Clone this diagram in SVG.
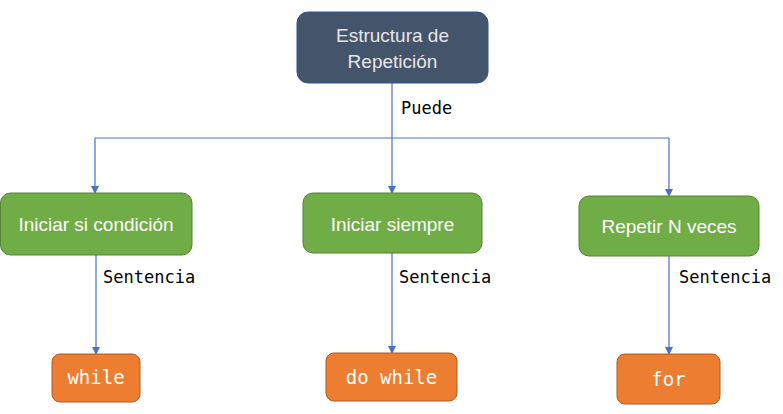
<svg xmlns="http://www.w3.org/2000/svg" width="783" height="414" viewBox="0 0 783 414">
<style>
.lbl{font-family:"Liberation Sans",Arial,sans-serif;font-size:19px;fill:#ffffff;text-anchor:middle}
.top{fill:#e7e6e6}
.mono{font-family:"DejaVu Sans Mono","Liberation Mono",monospace;font-size:17px;fill:#000000}
.code{font-family:"DejaVu Sans Mono","Liberation Mono",monospace;font-size:19px;fill:#ffffff;text-anchor:middle}
.green{fill:#70ad47;stroke:#548235;stroke-width:1}
.orange{fill:#ed7d31;stroke:#ae5a21;stroke-width:1}
.dark{fill:#44546a;stroke:#2f5597;stroke-width:1}
.conn{fill:none;stroke:#4472c4;stroke-width:1.2}
</style>
<defs>
<marker id="arr" markerWidth="8" markerHeight="8" refX="7" refY="4" orient="auto" markerUnits="userSpaceOnUse">
<path d="M0,0 L8,4 L0,8 Z" fill="#4472c4"/>
</marker>
</defs>
<rect width="783" height="414" fill="#ffffff"/>
<g id="connectors">
<path class="conn" d="M392,83 V138"/>
<path class="conn" d="M95,138 H669"/>
<path class="conn" d="M95,138 V193" marker-end="url(#arr)"/>
<path class="conn" d="M392,138 V193" marker-end="url(#arr)"/>
<path class="conn" d="M669,138 V196" marker-end="url(#arr)"/>
<path class="conn" d="M96,255 V354" marker-end="url(#arr)"/>
<path class="conn" d="M392,253 V353" marker-end="url(#arr)"/>
<path class="conn" d="M669,256 V354" marker-end="url(#arr)"/>
<text class="mono" x="401" y="114">Puede</text>
<text class="mono" x="103" y="283">Sentencia</text>
<text class="mono" x="399" y="283">Sentencia</text>
<text class="mono" x="679" y="283">Sentencia</text>
</g>
<g id="root">
<rect class="dark" x="297" y="12" width="191" height="71" rx="11"/>
<text class="lbl top" x="392.5" y="42">Estructura de</text>
<text class="lbl top" x="392.5" y="68">Repetición</text>
</g>
<g id="n1">
<rect class="green" x="0.5" y="193" width="191.5" height="62" rx="10"/>
<text class="lbl" x="96" y="231">Iniciar si condición</text>
</g>
<g id="n2">
<rect class="green" x="303" y="193" width="179" height="60" rx="10"/>
<text class="lbl" x="392.5" y="231">Iniciar siempre</text>
</g>
<g id="n3">
<rect class="green" x="579" y="196" width="180" height="60" rx="10"/>
<text class="lbl" x="669" y="233">Repetir N veces</text>
</g>
<g id="while">
<rect class="orange" x="52" y="354" width="88" height="48" rx="8"/>
<text class="code" x="96" y="384">while</text>
</g>
<g id="dowhile">
<rect class="orange" x="326" y="353" width="131" height="48" rx="8"/>
<text class="code" x="391.5" y="384">do while</text>
</g>
<g id="for">
<rect class="orange" x="617" y="354" width="103" height="50" rx="8"/>
<text class="code" x="668.5" y="386">for</text>
</g>
</svg>
